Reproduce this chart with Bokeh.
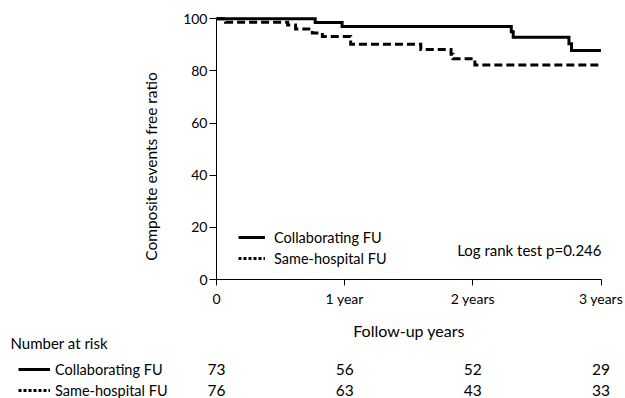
import math
from bokeh.plotting import figure
from bokeh.models import (Legend, LegendItem, Label, ColumnDataSource,
                          FixedTicker, Range1d, LinearAxis)
from bokeh.core.properties import value
from bokeh.embed import file_html
from bokeh.resources import INLINE

# ---- data ----
series_names = ["Collaborating FU", "Same-hospital FU"]
time_collab = [0.77, 0.98, 2.30, 2.315, 2.75, 2.77]
surv_collab = [98.6, 97.0, 95.0, 92.9, 90.4, 87.8]
time_same = [0.07, 0.555, 0.617, 0.748, 0.826, 1.047, 1.594, 1.83, 1.845, 2.016]
surv_same = [98.7, 97.6, 96.1, 94.6, 93.2, 90.2, 88.2, 86.4, 84.7, 82.3]
follow_end = 3.0
x_ticks = [0, 1, 2, 3]
x_tick_labels = ["0", "1 year", "2 years", "3 years"]
y_ticks = [0, 20, 40, 60, 80, 100]
risk_times = [0, 1, 2, 3]
risk_collab = [73, 56, 52, 29]
risk_same = [76, 63, 43, 33]
p_text = "Log rank test p=0.246"
risk_title = "Number at risk"
x_title = "Follow-up years"
y_title = "Composite events free ratio"

FONT = "Lato"
W, H = 625, 398
X0_PX, X3_PX = 216, 600.5      # pixel of x=0 and x=3
Y0_PX, Y100_PX = 279, 18.3     # pixel of y=0 and y=100
PPX = (X3_PX - X0_PX) / 3.0
PPY = (Y0_PX - Y100_PX) / 100.0

def dx(px):   # page pixel -> data x
    return (px - X0_PX) / PPX

def dy(py):   # page pixel -> data y
    return (Y0_PX - py) / PPY

p = figure(width=W, height=H, x_range=Range1d(dx(0), dx(W)), y_range=Range1d(dy(H), dy(0)),
           output_backend="svg", toolbar_location=None, x_axis_location=None,
           y_axis_location=None, min_border_left=0, min_border_right=0,
           min_border_top=0, min_border_bottom=0)
p.outline_line_color = None
p.grid.visible = False
p.extra_y_ranges = {"hidden": Range1d(-300, -200)}

def km(times, surv):
    xs = [0] + list(times) + [follow_end]
    ys = [100] + list(surv) + [surv[-1]]
    return xs, ys

xs, ys = km(time_same, surv_same)
xc, yc = km(time_collab, surv_collab)
p.step(xs, ys, mode="after", line_width=3, line_color="black", line_dash="8 4",
       line_join="miter")
p.step(xc, yc, mode="after", line_width=3, line_color="black", line_join="miter")

# legend keys (drawn on a hidden range so only the legends show them)
k_solid = p.step(xc, yc, mode="after", line_width=3, line_color="black", y_range_name="hidden")
k_dot = p.step(xs, ys, mode="after", line_width=3, line_color="black", line_dash="3 2",
               y_range_name="hidden")

# axes at fixed locations
xaxis = LinearAxis(fixed_location=0, ticker=FixedTicker(ticks=x_ticks),
                   major_label_overrides={t: l for t, l in zip(x_ticks, x_tick_labels)},
                   bounds=(0, follow_end), axis_label=x_title)
yaxis = LinearAxis(fixed_location=0, ticker=FixedTicker(ticks=y_ticks), bounds=(0, 100))
for ax in (xaxis, yaxis):
    ax.axis_line_width = 1
    ax.axis_line_color = "black"
    ax.major_tick_line_color = "black"
    ax.major_tick_in = 0
    ax.minor_tick_line_color = None
    ax.major_label_text_font = FONT
    ax.major_label_text_font_size = "14px"
    ax.major_label_text_color = "black"
    ax.axis_label_text_font = FONT
    ax.axis_label_text_font_size = "16px"
    ax.axis_label_text_font_style = "normal"
    ax.axis_label_text_color = "black"
xaxis.major_tick_out = 6
xaxis.major_label_standoff = 4
xaxis.axis_label_standoff = 11
yaxis.major_tick_out = 7
yaxis.major_label_standoff = 2
p.add_layout(xaxis, "below")
p.add_layout(yaxis, "left")

p.add_layout(Label(x=dx(150), y=dy(166), text=y_title, angle=math.pi / 2,
                   text_align="center", text_baseline="middle", text_font=FONT,
                   text_font_size="15.5px", text_color="black"))

leg = Legend(items=[LegendItem(label=series_names[0], renderers=[k_solid]),
                    LegendItem(label=series_names[1], renderers=[k_dot])],
             location=(238, H - 267), padding=0, margin=0, spacing=3,
             glyph_width=27, glyph_height=18, label_height=18, label_standoff=9,
             label_text_font=FONT, label_text_font_size="14.5px", label_text_color="black",
             border_line_alpha=0, background_fill_alpha=0)
p.add_layout(leg)

p.add_layout(Label(x=dx(601), y=dy(249), text=p_text, text_align="right",
                   text_baseline="middle", text_font=FONT, text_font_size="15px",
                   text_color="black"))

# ---------------- number-at-risk table ----------------
row_y = [dy(369), dy(390)]
src = ColumnDataSource(dict(
    x=risk_times + risk_times,
    y=[row_y[0]] * len(risk_times) + [row_y[1]] * len(risk_times),
    text=[str(v) for v in risk_collab] + [str(v) for v in risk_same]))
p.text(x="x", y="y", text="text", source=src, text_align="center", text_baseline="middle",
       text_font=value(FONT), text_font_size=value("15.5px"), text_color="black")
p.text(x=[dx(10)], y=[dy(342)], text=[risk_title], text_align="left",
       text_baseline="middle", text_font=value(FONT), text_font_size=value("15px"),
       text_color="black")

leg2 = Legend(items=[LegendItem(label=series_names[0], renderers=[k_solid]),
                     LegendItem(label=series_names[1], renderers=[k_dot])],
              location=(18, H - 399), padding=0, margin=0, spacing=3,
              glyph_width=32, glyph_height=18, label_height=18, label_standoff=5,
              label_text_font=FONT, label_text_font_size="14.5px", label_text_color="black",
              border_line_alpha=0, background_fill_alpha=0)
p.add_layout(leg2)

open("out.html", "w").write(file_html(p, INLINE))
